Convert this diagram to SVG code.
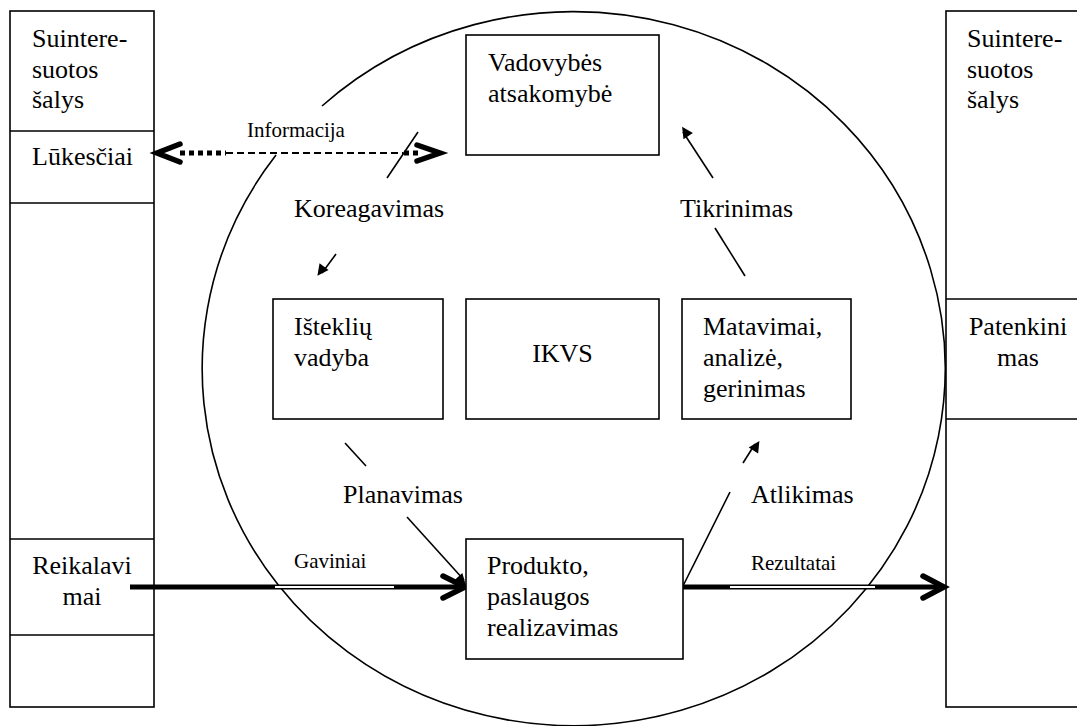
<svg xmlns="http://www.w3.org/2000/svg" width="1077" height="726" viewBox="0 0 1077 726" font-family="'Liberation Serif', 'Times New Roman', 'DejaVu Serif', serif">
<defs>
<style>
.box{fill:#fff;stroke:#000;stroke-width:1.6}
.col{fill:none;stroke:#000;stroke-width:1.6}
text{font-family:'Liberation Serif','Times New Roman','DejaVu Serif',serif;fill:#000}
.t{font-size:26px}
.s{font-size:21px}
.ln{fill:none;stroke:#000;stroke-width:1.6}
.thick{fill:none;stroke:#000;stroke-width:5}
.chev{fill:none;stroke:#000;stroke-width:5.5;stroke-linecap:round;stroke-linejoin:miter}
.strip{stroke:#fff;stroke-width:2}
</style>
<marker id="ah" viewBox="0 0 10 10" refX="9" refY="5" markerWidth="7" markerHeight="7" markerUnits="userSpaceOnUse" orient="auto" overflow="visible">
<path d="M0,0 L10,5 L0,10 Z" fill="#000" transform="scale(1.6)"/>
</marker>
</defs>
<rect width="1077" height="726" fill="#fff"/>

<g id="circle">
<path class="ln" d="M322,106 A371.5,357 0 1,1 276,155"/>
</g>

<g id="left-column">
<rect class="col" x="10" y="11" width="144" height="696"/>
<line class="ln" x1="10" y1="131" x2="154" y2="131"/>
<line class="ln" x1="10" y1="203" x2="154" y2="203"/>
<line class="ln" x1="10" y1="539" x2="154" y2="539"/>
<line class="ln" x1="10" y1="635" x2="154" y2="635"/>
<text class="t" x="32" y="47" font-family="Liberation Serif, serif">Suintere-</text>
<text class="t" x="32" y="78" font-family="Liberation Serif, serif">suotos</text>
<text class="t" x="32" y="108" font-family="Liberation Serif, serif">šalys</text>
<text class="t" x="32" y="165" font-family="Liberation Serif, serif">Lūkesčiai</text>
<text class="t" x="82" y="574" text-anchor="middle" font-family="Liberation Serif, serif">Reikalavi</text>
<text class="t" x="82" y="605" text-anchor="middle" font-family="Liberation Serif, serif">mai</text>
</g>

<g id="right-column">
<rect class="col" x="946" y="11" width="140" height="696"/>
<line class="ln" x1="946" y1="299" x2="1077" y2="299"/>
<line class="ln" x1="946" y1="419" x2="1077" y2="419"/>
<text class="t" x="967" y="47">Suintere-</text>
<text class="t" x="967" y="78">suotos</text>
<text class="t" x="967" y="108">šalys</text>
<text class="t" x="1018" y="335" text-anchor="middle">Patenkini</text>
<text class="t" x="1018" y="366" text-anchor="middle">mas</text>
</g>

<g id="connectors">
<path class="chev" d="M180,144 L157,153 L180,162"/>
<line x1="180" y1="153" x2="226" y2="153" stroke="#000" stroke-width="5" stroke-dasharray="5 4"/>
<line x1="226" y1="153" x2="403" y2="153" stroke="#000" stroke-width="2" stroke-dasharray="7 4"/>
<line x1="404" y1="153" x2="422" y2="153" stroke="#000" stroke-width="5" stroke-dasharray="5 4"/>
<path class="chev" d="M417,145 L440,153 L417,161" stroke-width="6.5"/>
<text class="s" x="247" y="137">Informacija</text>
<line class="ln" x1="418" y1="132" x2="387" y2="178"/>
<line class="ln" x1="336" y1="254" x2="322" y2="273" marker-end="url(#ah)"/>
<text class="t" x="294" y="217">Koreagavimas</text>
<line class="ln" x1="745" y1="276" x2="715" y2="228"/>
<line class="ln" x1="713" y1="178" x2="683" y2="132" marker-end="url(#ah)"/>
<text class="t" x="680" y="217">Tikrinimas</text>
<line class="ln" x1="345" y1="443" x2="366" y2="466"/>
<line class="ln" x1="407" y1="517" x2="464" y2="580" marker-end="url(#ah)"/>
<text class="t" x="343" y="503">Planavimas</text>
<line class="ln" x1="683" y1="586" x2="730" y2="492"/>
<line class="ln" x1="743" y1="463" x2="755" y2="444" marker-end="url(#ah)"/>
<text class="t" x="751" y="503">Atlikimas</text>
<line class="thick" x1="130" y1="587" x2="462" y2="587"/>
<line class="strip" x1="275" y1="587" x2="394" y2="587"/>
<path class="chev" d="M443,576 L465,587 L443,598"/>
<text class="s" x="294" y="568">Gaviniai</text>
<line class="thick" x1="683" y1="587" x2="942" y2="587"/>
<line class="strip" x1="730" y1="587" x2="875" y2="587"/>
<path class="chev" d="M923,576 L944,587 L923,598"/>
<text class="s" x="751" y="570">Rezultatai</text>
</g>

<g id="vadovybes">
<rect class="box" x="466" y="35" width="193" height="120"/>
<text class="t" x="488" y="71">Vadovybės</text>
<text class="t" x="488" y="102">atsakomybė</text>
</g>

<g id="istekliu">
<rect class="box" x="273" y="299" width="170" height="120"/>
<text class="t" x="294" y="335">Išteklių</text>
<text class="t" x="294" y="366">vadyba</text>
</g>

<g id="ikvs">
<rect class="box" x="466" y="299" width="193" height="120"/>
<text class="t" x="562.5" y="362" text-anchor="middle">IKVS</text>
</g>

<g id="matavimai">
<rect class="box" x="682" y="299" width="169" height="120"/>
<text class="t" x="703" y="335">Matavimai,</text>
<text class="t" x="703" y="366">analizė,</text>
<text class="t" x="703" y="397">gerinimas</text>
</g>

<g id="produkto">
<rect class="box" x="466" y="539" width="217" height="120"/>
<text class="t" x="487" y="574">Produkto,</text>
<text class="t" x="487" y="605">paslaugos</text>
<text class="t" x="487" y="636">realizavimas</text>
</g>
</svg>
